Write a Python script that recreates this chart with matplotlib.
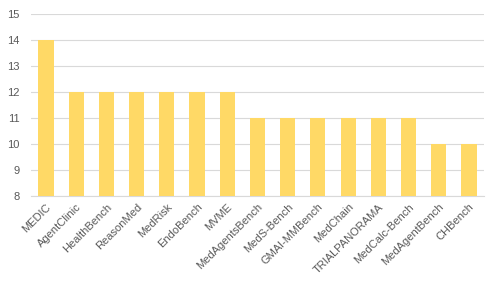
import matplotlib.pyplot as plt
import numpy as np

benchmarks = ["MEDIC", "AgentClinic", "HealthBench", "ReasonMed", "MedRisk",
              "EndoBench", "MVME", "MedAgentsBench", "MedS-Bench", "GMAI-MMBench",
              "MedChain", "TRIALPANORAMA", "MedCalc-Bench", "MedAgentBench", "CHBench"]
counts = [14, 12, 12, 12, 12, 12, 12, 11, 11, 11, 11, 11, 11, 10, 10]

BAR = "#FFD966"
TXT = "#595959"
GRID = "#D9D9D9"

plt.rcParams["font.family"] = ["Liberation Sans", "DejaVu Sans"]

fig = plt.figure(figsize=(4.98, 2.83), dpi=100)
ax = fig.add_axes([0.062, 0.307, 0.91, 0.6435])

x = np.arange(len(benchmarks))
ax.bar(x, counts, width=0.5, color=BAR, zorder=3)

ax.set_ylim(8, 15)
ax.set_xlim(-0.5, len(benchmarks) - 0.5)
ax.set_yticks(range(8, 16))
ax.yaxis.grid(True, color=GRID, lw=0.8, zorder=0)
ax.set_xticks(x)
ax.set_xticklabels(benchmarks, rotation=45, ha="right", rotation_mode="anchor",
                   fontsize=8, color=TXT)
ax.tick_params(axis="y", labelsize=8, labelcolor=TXT, length=0, pad=8)
ax.tick_params(axis="x", length=0, pad=4)
for s in ["top", "right", "left"]:
    ax.spines[s].set_visible(False)
ax.spines["bottom"].set_color(GRID)
ax.spines["bottom"].set_linewidth(0.8)

fig.savefig("out.png", dpi=100)
